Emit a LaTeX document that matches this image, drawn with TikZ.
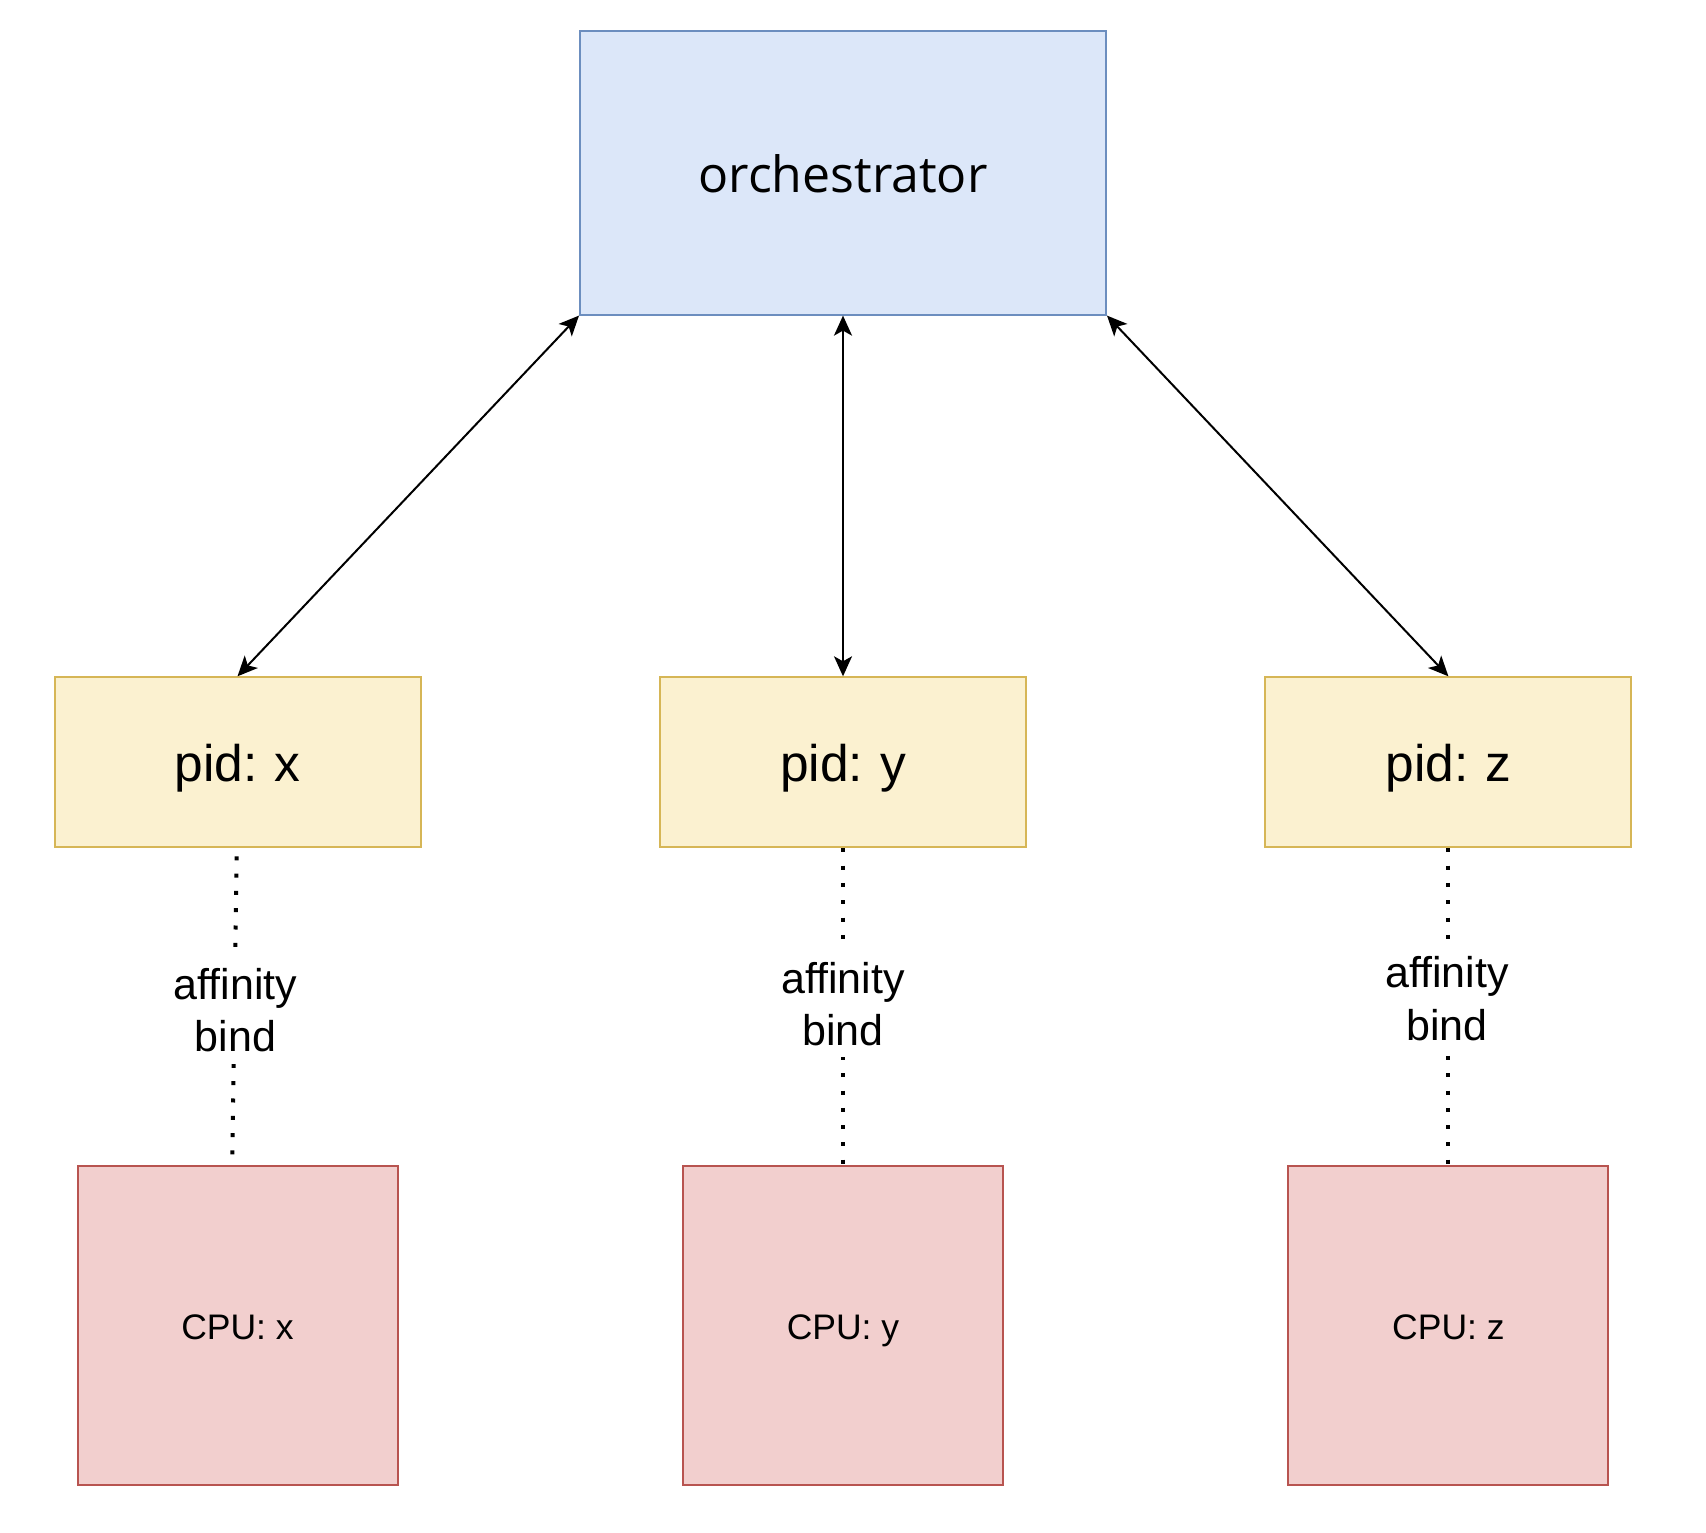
\documentclass[tikz,border=0pt]{standalone}
\usepackage{fontspec}
\setmainfont{Liberation Sans}[Ligatures=NoCommon]
\newfontfamily\orchfont{Open Sans}
\usetikzlibrary{arrows.meta}
\definecolor{blueF}{HTML}{DCE7F9}
\definecolor{blueD}{HTML}{6C8EBF}
\definecolor{yelF}{HTML}{FBF1D0}
\definecolor{yelD}{HTML}{D6B656}
\definecolor{redF}{HTML}{F2CFCE}
\definecolor{redD}{HTML}{B85450}
\tikzset{
  orchbox/.style={draw=blueD, fill=blueF, line width=2pt, minimum width=526pt, minimum height=284pt,
    font={\orchfont\fontsize{50}{60}\selectfont}, text height=40.2pt, text depth=0pt},
  pidbox/.style={draw=yelD, fill=yelF, line width=2pt, minimum width=366pt, minimum height=170pt,
    font={\fontsize{51.5}{60}\selectfont}, text height=37.4pt, text depth=0pt},
  cpubox/.style={draw=redD, fill=redF, line width=2pt, minimum width=320pt, minimum height=319pt,
    font={\fontsize{35.5}{42}\selectfont}, text height=27.6pt, text depth=0pt},
  biarrow/.style={line width=2pt, arrows={Stealth[length=20pt,width=18pt,inset=5pt]-Stealth[length=20pt,width=18pt,inset=5pt]}},
  dotline/.style={line width=4pt, dash pattern=on 4pt off 13.3pt},
  afflabel/.style={fill=white, inner sep=0pt, align=center, font={\fontsize{43}{52.2}\selectfont}},
}
\newcommand{\afftext}{\rule{0pt}{41pt}affinity\\bind\rule[-12pt]{0pt}{12pt}}
\begin{document}
\begin{tikzpicture}[x=1pt,y=-1pt]
\useasboundingbox (0,0) rectangle (1706,1532);
\fill[white] (0,0) rectangle (1706,1532);
% boxes
\node[orchbox] (orch) at (843,172.6) {orchestrator};
\node[pidbox] (pidx) at (237.5,762.3) {pid:\hspace{-2pt} x};
\node[pidbox] (pidy) at (843,762.3) {pid:\hspace{-2pt} y};
\node[pidbox] (pidz) at (1448.4,762.3) {pid:\hspace{-2pt} z};
\node[cpubox] (cpux) at (237.5,1325.8) {CPU: x};
\node[cpubox] (cpuy) at (843,1325.8) {CPU: y};
\node[cpubox] (cpuz) at (1448.4,1325.8) {CPU: z};
% arrows
\draw[biarrow] (orch.south west) -- (pidx.north);
\draw[biarrow] (orch.south) -- (pidy.north);
\draw[biarrow] (orch.south east) -- (pidz.north);
% dotted affinity links
\draw[dotline] ([shift={(-0.8,8)}]pidx.south) -- ([shift={(-5.2,-8)}]cpux.north);
\draw[dotline] (pidy.south) -- (cpuy.north);
\draw[dotline] (pidz.south) -- (cpuz.north);
% labels
\node[afflabel] (lblx) at (235.5,1010.9) {\afftext};
\node[afflabel] (lbly) at (843,1004.7) {\afftext};
\node[afflabel] (lblz) at (1447,999.5) {\afftext};
\end{tikzpicture}
\end{document}
